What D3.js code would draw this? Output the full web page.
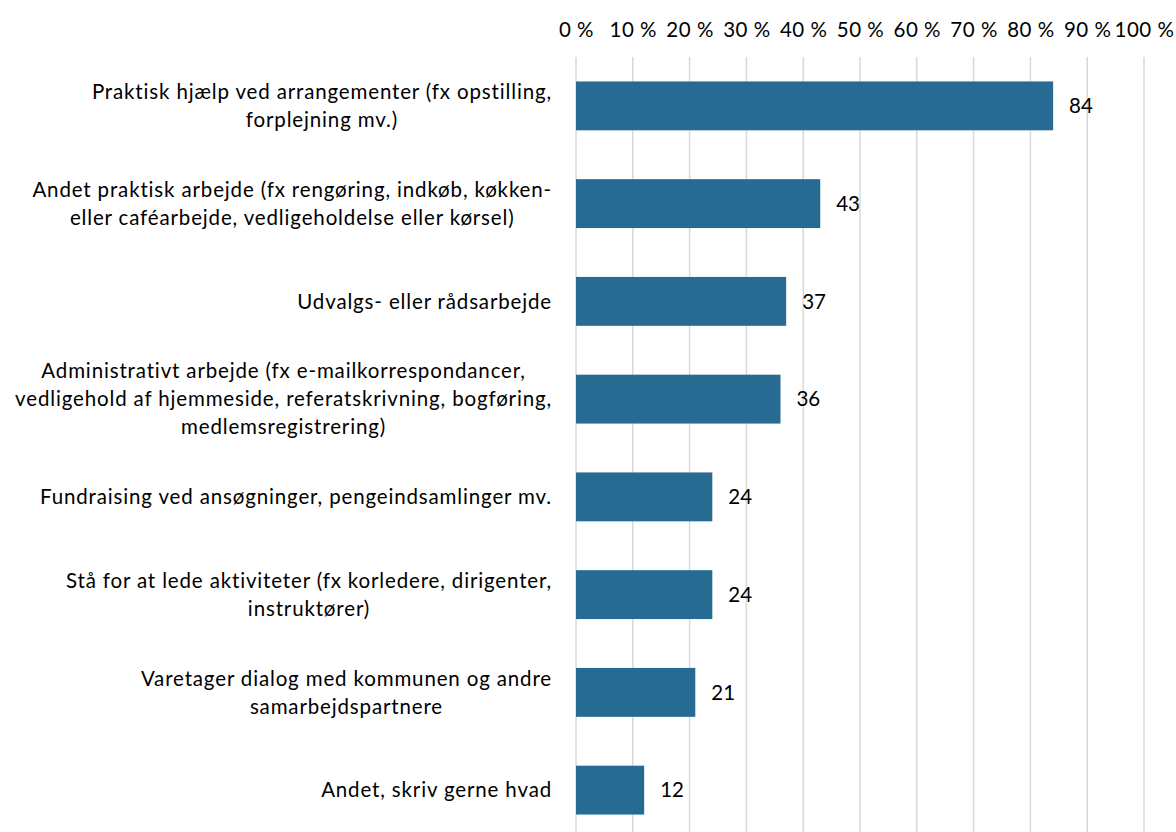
<!DOCTYPE html>
<html lang="da">
  <head>
    <meta charset="UTF-8" />
    <title>Frivillige opgaver</title>
    <script src="https://d3js.org/d3.v7.min.js"></script>
    <style>
      body {
        margin: 0;
        background: #fff;
        font-family: Lato, "Open Sans", sans-serif;
      }
      svg text {
        fill: #000;
      }
    </style>
  </head>
  <body>
    <svg width="1176" height="832"></svg>

    <script>
      // Data
      const categories = [
        "Praktisk hjælp ved arrangementer (fx opstilling,|forplejning mv.)",
        "Andet praktisk arbejde (fx rengøring, indkøb, køkken-|eller caféarbejde, vedligeholdelse eller kørsel)",
        "Udvalgs- eller rådsarbejde",
        "Administrativt arbejde (fx e-mailkorrespondancer,|vedligehold af hjemmeside, referatskrivning, bogføring,|medlemsregistrering)",
        "Fundraising ved ansøgninger, pengeindsamlinger mv.",
        "Stå for at lede aktiviteter (fx korledere, dirigenter,|instruktører)",
        "Varetager dialog med kommunen og andre|samarbejdspartnere",
        "Andet, skriv gerne hvad"
      ];
      const values = [84, 43, 37, 36, 24, 24, 21, 12];
      const ticks = [0, 10, 20, 30, 40, 50, 60, 70, 80, 90, 100];

      const svg = d3.select("svg");
      const fontSize = 20.5;
      const spacing = "0.85px";
      const barColor = "#276a92";

      const x = d3.scaleLinear().domain([0, 100]).range([576, 1144]);
      const y = d3.scaleBand().domain(categories).range([57, 839]).paddingInner(0.5).paddingOuter(0.25);

      // vertical gridlines
      svg.append("g")
        .selectAll("line")
        .data(ticks)
        .join("line")
        .attr("x1", d => x(d))
        .attr("x2", d => x(d))
        .attr("y1", 57)
        .attr("y2", 832)
        .attr("stroke", "#d9d9d9")
        .attr("stroke-width", 1.5);

      // top axis labels
      const axis = d3.axisTop(x).tickValues(ticks).tickSize(0).tickFormat(d => d + " %");
      const ax = svg.append("g").attr("transform", "translate(0,22)").call(axis);
      ax.select(".domain").remove();
      ax.selectAll("text")
        .attr("font-size", fontSize)
        .attr("font-family", "Lato, sans-serif")
        .attr("letter-spacing", "0.5px")
        .attr("fill", "#000")
        .attr("dy", "0.32em")
        .attr("y", 8);

      // bars
      svg.append("g")
        .selectAll("rect")
        .data(values)
        .join("rect")
        .attr("x", x(0))
        .attr("y", (d, i) => y(categories[i]))
        .attr("width", d => x(d) - x(0))
        .attr("height", y.bandwidth())
        .attr("fill", barColor);

      // value labels
      svg.append("g")
        .selectAll("text")
        .data(values)
        .join("text")
        .attr("x", d => x(d) + 16)
        .attr("y", (d, i) => y(categories[i]) + y.bandwidth() / 2)
        .attr("dy", "0.35em")
        .attr("font-size", fontSize)
        .text(d => d);

      // category labels: block right-aligned, lines centred within block
      const lineH = 28;
      const rightEdge = 552;
      categories.forEach(c => {
        const lines = c.split("|");
        const g = svg.append("g");
        const texts = lines.map((l, k) =>
          g.append("text")
            .attr("font-size", fontSize)
            .attr("letter-spacing", spacing)
            .attr("text-anchor", "middle")
            .attr("y", y(c) + y.bandwidth() / 2 + (k - (lines.length - 1) / 2) * lineH)
            .attr("dy", "0.35em")
            .text(l)
        );
        const w = d3.max(texts, t => t.node().getComputedTextLength());
        texts.forEach(t => t.attr("x", rightEdge - w / 2));
      });
    </script>
  </body>
</html>
